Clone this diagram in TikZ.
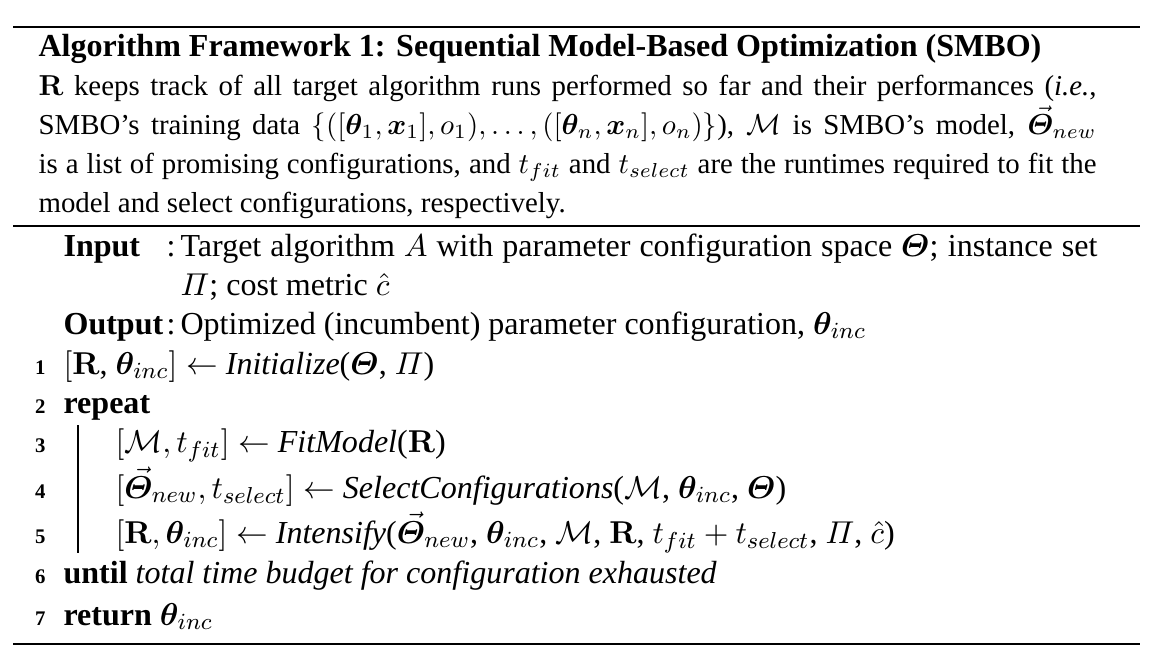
\documentclass[tikz,border=0pt]{standalone}
\usepackage{amsmath}
\usepackage[no-math]{fontspec}
\usepackage{bm}
\setmainfont{Liberation Serif}
\usetikzlibrary{positioning}

\newcommand{\thetab}{\boldsymbol{\theta}}
\newcommand{\xb}{\boldsymbol{x}}
\newcommand{\Thetab}{\boldsymbol{\varTheta}}
\newcommand{\Thetanew}{\vec{\boldsymbol{\varTheta}}_{new}}

\begin{document}
\begin{tikzpicture}[x=0.3465pt, y=-0.3465pt,
    txt/.style={anchor=base west, inner sep=0pt},
    alg/.style={txt, font=\fontsize{11.1}{13.3}\selectfont},
    kw/.style={txt, font=\fontsize{11.1}{13.3}\selectfont\bfseries},
    num/.style={anchor=base east, inner sep=0pt, font=\fontsize{7.2}{8}\selectfont\bfseries},
    rule/.style={line width=0.8pt}]
    \useasboundingbox (0,0) rectangle (1158,659);

    % the rules
    \coordinate (topL) at (13,27);  \coordinate (topR) at (1140,27);
    \coordinate (midL) at (13,226); \coordinate (midR) at (1140,226);
    \coordinate (botL) at (13,644); \coordinate (botR) at (1140,644);
    \draw[rule] (topL) -- (topR);
    \draw[rule] (midL) -- (midR);
    \draw[rule] (botL) -- (botR);

    % caption
    \node[kw] (title) at (38,56) {Algorithm Framework 1: Sequential Model-Based Optimization (SMBO)};
    \node[txt] (cap1) at (38,95) {\makebox[366.6pt][s]{$\mathbf{R}$ keeps track of all target algorithm runs performed so far and their performances (\textit{i.e.},}};
    \node[txt] (cap2) at (38,134) {\makebox[366.6pt][s]{SMBO’s training data $\{([\thetab_1,\xb_1],o_1),\ldots,([\thetab_n,\xb_n],o_n)\}$), $\mathcal{M}$ is SMBO’s model, $\Thetanew$}};
    \node[txt] (cap3) at (38,173) {\makebox[366.6pt][s]{is a list of promising configurations, and $t_{fit}$ and $t_{select}$ are the runtimes required to fit the}};
    \node[txt] (cap4) at (38,212) {model and select configurations, respectively.};

    % input and output
    \node[kw]  (inKw)   at (63,256)  {Input};
    \node[alg] (inCol)  at (166,256) {:};
    \node[alg] (inTxt)  at (180,256) {\makebox[317.7pt][s]{Target algorithm $A$ with parameter configuration space $\Thetab$; instance set}};
    \node[alg] (inTxt2) at (180,295) {$\varPi$; cost metric $\hat{c}$};
    \node[kw]  (outKw)  at (63,334)  {Output};
    \node[alg] (outCol) at (166,334) {:};
    \node[alg] (outTxt) at (180,334) {Optimized (incumbent) parameter configuration, $\thetab_{inc}$};

    % line numbers
    \foreach \i/\y in {1/374, 2/413, 3/452, 4/498, 5/543, 6/583, 7/625}
        \node[num] (n\i) at (46,\y) {\i};

    % the algorithm
    \node[alg] (l1) at (63,374)  {$[\mathbf{R}$, $\thetab_{inc}]\leftarrow$ \textit{Initialize}($\Thetab$, $\varPi$)};
    \node[kw]  (l2) at (63,413)  {repeat};
    \node[alg] (l3) at (115,452) {$[\mathcal{M},t_{fit}]\leftarrow$ \textit{FitModel}($\mathbf{R}$)};
    \node[alg] (l4) at (115,498) {$[\Thetanew,t_{select}]\leftarrow$ \textit{SelectConfigurations}($\mathcal{M}$, $\thetab_{inc}$, $\Thetab$)};
    \node[alg] (l5) at (115,543) {$[\mathbf{R},\thetab_{inc}]\leftarrow$ \textit{Intensify}($\Thetanew$, $\thetab_{inc}$, $\mathcal{M}$, $\mathbf{R}$, $t_{fit}+t_{select}$, $\varPi$, $\hat{c}$)};
    \node[alg] (l6) at (63,583)  {\textbf{until} \textit{total time budget for configuration exhausted}};
    \node[alg] (l7) at (63,625)  {\textbf{return} $\thetab_{inc}$};

    % block of the loop
    \coordinate (barTop) at (78,425);
    \coordinate (barBot) at (78,553);
    \draw[line width=0.4pt] (barTop) -- (barBot);
\end{tikzpicture}
\end{document}
